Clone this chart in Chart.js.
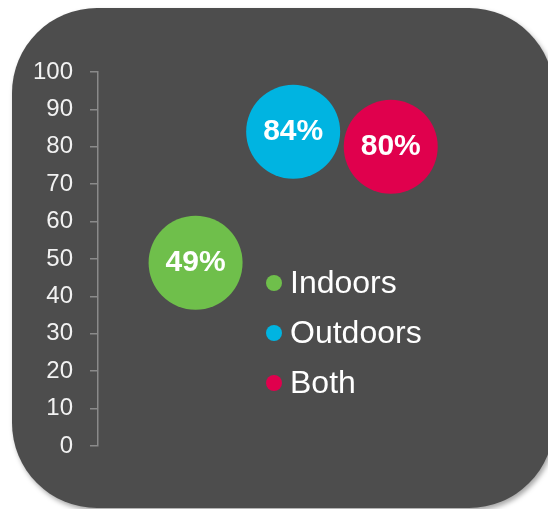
<!DOCTYPE html>
<html>
<head>
<meta charset="utf-8">
<script src="https://cdn.jsdelivr.net/npm/chart.js@4.4.1/dist/chart.umd.min.js"></script>
<style>
    html, body { margin: 0; padding: 0; background: #fff; overflow: hidden; }
    #card {
        position: absolute; left: 12px; top: 8px; width: 542px; height: 500px;
        background: #4d4d4d; border-radius: 85px;
        box-shadow: 2px 3px 5px rgba(0, 0, 0, 0.35);
    }
    #wrap { position: absolute; left: 0; top: 0; width: 548px; height: 509px; }
</style>
</head>
<body>
<div id="card"></div>
<div id="wrap"><canvas id="chart" width="548" height="509"></canvas></div>
<script>
const categories = ['Indoors', 'Outdoors', 'Both'];
const values = [49, 84, 80];
const yTicks = [0, 10, 20, 30, 40, 50, 60, 70, 80, 90, 100];
const colors = ['#6fbf4b', '#00b4e1', '#e0004d'];

const FONT = "'Liberation Sans', Arial, sans-serif";

const datasets = categories.map((name, i) => ({
    label: name,
    data: [{ x: i + 1, y: values[i] }],
    backgroundColor: colors[i],
    borderWidth: 0,
    radius: 47,
    hoverRadius: 0
}));

// percent labels in the bubbles
const bubbleLabels = {
    id: 'bubbleLabels',
    afterDatasetsDraw(chart) {
        const ctx = chart.ctx;
        ctx.save();
        ctx.fillStyle = '#ffffff';
        ctx.font = 'bold 30px ' + FONT;
        ctx.textAlign = 'center';
        ctx.textBaseline = 'middle';
        chart.data.datasets.forEach((ds, i) => {
            const el = chart.getDatasetMeta(i).data[0];
            ctx.fillText(ds.data[0].y + '%', el.x, el.y);
        });
        ctx.restore();
    }
};

// legend drawn inside the plot area
const innerLegend = {
    id: 'innerLegend',
    afterDraw(chart) {
        const ctx = chart.ctx;
        const area = chart.chartArea;
        const x0 = area.left + 176;
        const y0 = area.top + 211;
        ctx.save();
        ctx.font = '32px ' + FONT;
        ctx.textBaseline = 'middle';
        chart.data.datasets.forEach((ds, i) => {
            const y = y0 + i * 50;
            ctx.fillStyle = ds.backgroundColor;
            ctx.beginPath();
            ctx.arc(x0, y, 8, 0, Math.PI * 2);
            ctx.fill();
            ctx.fillStyle = '#ffffff';
            ctx.fillText(ds.label, x0 + 16, y + 1);
        });
        ctx.restore();
    }
};

new Chart(document.getElementById('chart'), {
    type: 'bubble',
    data: { datasets: datasets },
    plugins: [bubbleLabels, innerLegend],
    options: {
        responsive: false,
        animation: false,
        layout: { padding: { top: 72, bottom: 63, left: 0, right: 12 } },
        plugins: {
            legend: { display: false },
            tooltip: { enabled: false }
        },
        scales: {
            x: { type: 'linear', display: false, min: 0, max: 4.13 },
            y: {
                min: 0,
                max: 100,
                afterFit: scale => { scale.width = 98; },
                afterBuildTicks: scale => { scale.ticks = yTicks.map(v => ({ value: v })); },
                border: { display: true, color: '#8a8a8a', width: 1.5 },
                grid: { drawOnChartArea: false, drawTicks: true, tickLength: 8, color: '#8a8a8a', lineWidth: 1.5 },
                ticks: { color: '#f2f2f2', padding: 17, font: { family: FONT, size: 24 } }
            }
        }
    }
});
</script>
</body>
</html>
